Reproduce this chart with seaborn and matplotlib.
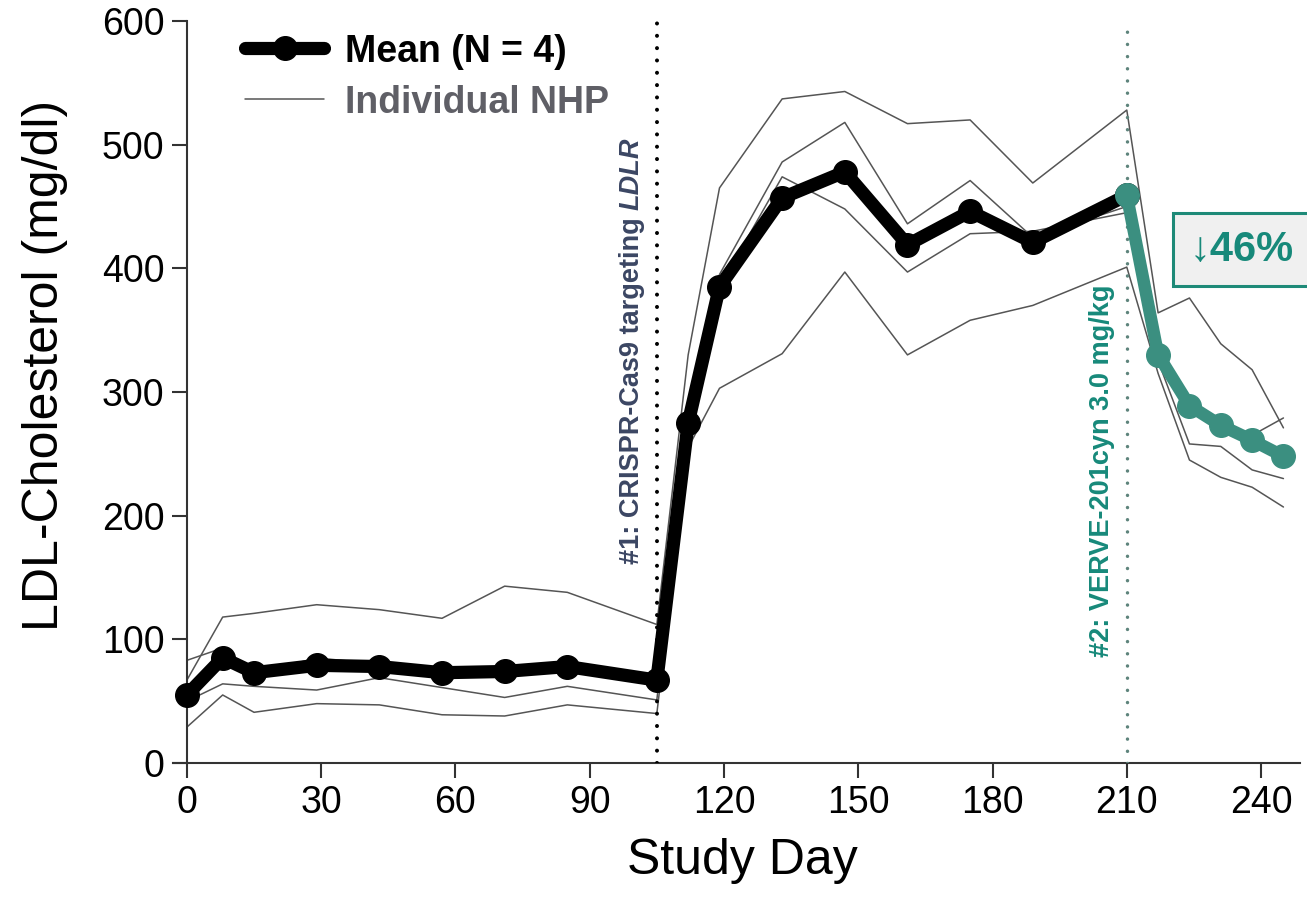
import numpy as np
import pandas as pd
import matplotlib
matplotlib.use("Agg")
import matplotlib.pyplot as plt
import seaborn as sns
from matplotlib.lines import Line2D

# study days with measurements
days = [0, 8, 15, 29, 43, 57, 71, 85, 105, 112, 119, 133, 147, 161, 175, 189,
        210, 217, 224, 231, 238, 245]

mean_ldl = [55, 85, 73, 79, 78, 73, 74, 78, 67, 275, 385, 457, 478, 419, 446, 421,
            459, 330, 289, 273, 261, 248]

nhp_a = [67, 118, 121, 128, 124, 117, 143, 138, 112, 330, 465, 537, 543, 517, 520, 469,
         528, 364, 376, 339, 318, 271]
nhp_b = [83, 93, 72, 85, 80, 75, 76, 78, 65, 290, 395, 486, 518, 436, 471, 425,
         450, 335, 290, 272, 265, 279]
nhp_c = [50, 64, 62, 59, 69, 61, 53, 62, 51, 270, 385, 474, 448, 397, 428, 430,
         445, 325, 258, 256, 237, 230]
nhp_d = [29, 55, 41, 48, 47, 39, 38, 47, 40, 255, 303, 331, 397, 330, 358, 370,
         401, 315, 245, 231, 223, 207]

dose1_day = 105
dose2_day = 210
reduction_label = "↓46%"

TEAL = "#17897a"
TEAL_LINE = "#3b8f80"
GRAY = "#555555"

sns.set_style("ticks")
plt.rcParams["font.family"] = ["Liberation Sans", "DejaVu Sans"]
plt.rcParams["text.color"] = "black"
plt.rcParams["axes.labelcolor"] = "black"
plt.rcParams["xtick.color"] = "black"
plt.rcParams["ytick.color"] = "black"

fig = plt.figure(figsize=(13.07, 9.06), dpi=100)
ax = fig.add_axes([173 / 1307, 143 / 906, 1127 / 1307, 742 / 906])

ind = pd.DataFrame({
    "day": days * 4,
    "ldl": nhp_a + nhp_b + nhp_c + nhp_d,
    "animal": np.repeat(["A", "B", "C", "D"], len(days)),
})
sns.lineplot(data=ind, x="day", y="ldl", units="animal", estimator=None,
             color=GRAY, lw=1.1, ax=ax, legend=False, zorder=2)

mean_df = pd.DataFrame({"day": days, "ldl": mean_ldl})
pre = mean_df[mean_df["day"] <= dose2_day]
post = mean_df[mean_df["day"] >= dose2_day]
sns.lineplot(data=pre, x="day", y="ldl", color="black", lw=9.5, marker="o",
             ms=17, mec="black", mew=1, errorbar=None, ax=ax, zorder=4)
sns.lineplot(data=post, x="day", y="ldl", color=TEAL_LINE, lw=9, marker="o",
             ms=17, mec=TEAL_LINE, mew=1, errorbar=None, ax=ax, zorder=5)

ax.axvline(dose1_day, color="black", lw=2.9, ls=(0, (0.01, 3.05)),
           dash_capstyle="round", zorder=3)
ax.axvline(dose2_day, color="#5e847c", lw=2.5, ls=(0, (0.01, 3.5)),
           dash_capstyle="round", zorder=3)

ax.set_xlim(-3.1, 248.7)
ax.set_ylim(0, 600)
ax.set_xticks(range(0, 241, 30))
ax.set_yticks(range(0, 601, 100))
ax.spines["left"].set_position(("data", 0))
sns.despine(ax=ax)
for s in ["left", "bottom"]:
    ax.spines[s].set_linewidth(1.5)
    ax.spines[s].set_color("#333333")
ax.tick_params(labelsize=27, length=11, width=1.5, pad=5, color="#333333",
               labelcolor="black")

ax.set_xlabel("Study Day", fontsize=36, color="black")
ax.set_ylabel("LDL-Cholesterol (mg/dl)", fontsize=36, color="black")
ax.xaxis.set_label_coords(0.505, -0.101)
ax.yaxis.set_label_coords(-0.0935, 0.536)

# dosing annotations
t1 = ax.text(99.4, 161, "#1: CRISPR-Cas9 targeting ", rotation=90, ha="center",
             va="bottom", fontsize=19.5, weight="bold", color="#3b4663")
ax.annotate("LDLR", xy=(0.5, 1.0), xycoords=t1, rotation=90, ha="center",
            va="bottom", fontsize=19.5, weight="bold", style="italic", color="#3b4663")
ax.text(204.5, 86, "#2: VERVE-201cyn 3.0 mg/kg", rotation=90, ha="center",
        va="bottom", fontsize=19.5, weight="bold", color=TEAL)

ax.text(224.0, 415, reduction_label, ha="left", va="center", fontsize=30,
        weight="bold", color=TEAL, zorder=6,
        bbox=dict(boxstyle="square,pad=0.4", fc="#f0f0f0", ec="#1e8a78", lw=2.2))

h_mean = Line2D([], [], color="black", lw=9.5, marker="o", ms=17)
h_ind = Line2D([], [], color=GRAY, lw=1.1)
leg = ax.legend([h_mean, h_ind], ["Mean (N = 4)", "Individual NHP"],
                loc="upper left", bbox_to_anchor=(0.064, 0.983), frameon=False,
                prop=dict(size=27, weight="bold"), handlelength=2.1,
                handletextpad=0.55, labelspacing=0.4, borderpad=0, borderaxespad=0)
leg.get_texts()[0].set_color("black")
leg.get_texts()[1].set_color("#5f5f66")

fig.savefig("out.png", dpi=100)
